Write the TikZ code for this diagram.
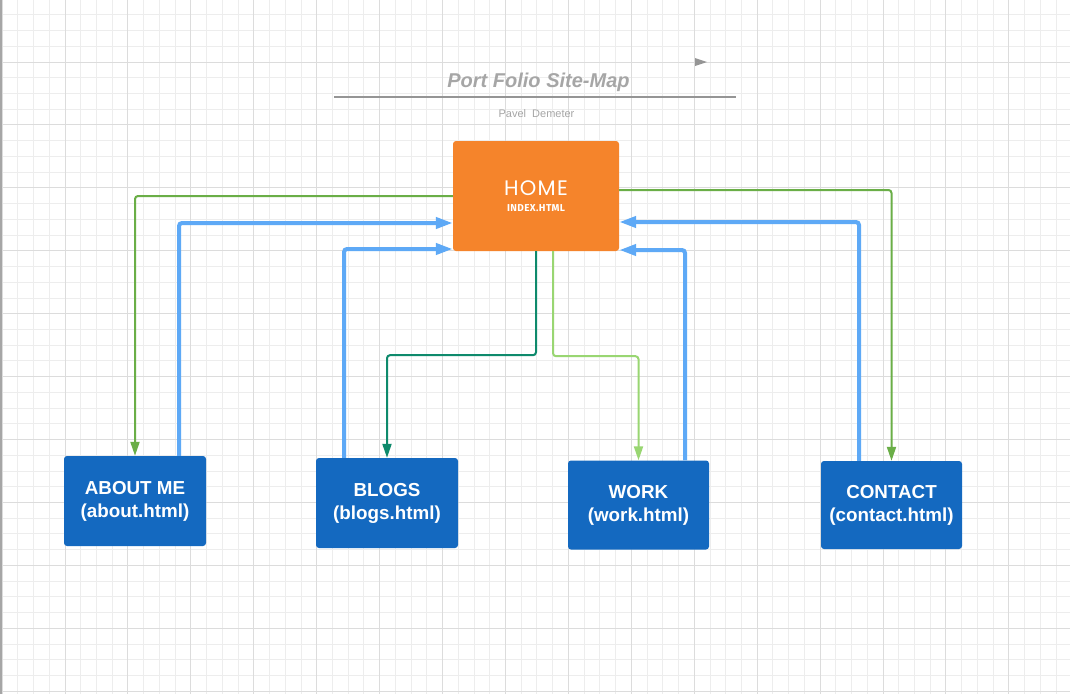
\documentclass[tikz,border=0pt]{standalone}
\usepackage{fontspec}
\setmainfont{Liberation Sans}
\newfontfamily\homefont[LetterSpace=6]{Poppins}
\newfontfamily\tagfont[LetterSpace=4]{Fira Sans}
\usetikzlibrary{arrows.meta,positioning}
\definecolor{homeorange}{HTML}{F5842B}
\definecolor{pageblue}{HTML}{1469C0}
\definecolor{backblue}{HTML}{5EA9F6}
\definecolor{linkgreen}{HTML}{6AAE47}
\definecolor{linkteal}{HTML}{0E8A6C}
\definecolor{linklime}{HTML}{99D672}
\definecolor{gridminor}{HTML}{EDEDED}
\definecolor{gridmajor}{HTML}{DCDCDC}
\definecolor{titlegray}{HTML}{A6A6A6}
\tikzset{
  page/.style={fill=pageblue, text=white, rounded corners=3pt, inner sep=0pt,
    minimum width=142pt, minimum height=90pt, align=center,
    font=\bfseries\fontsize{18.8}{23}\selectfont},
  backlink/.style={draw=backblue, line width=4pt, rounded corners=3pt,
    -{Triangle[length=17pt,width=11pt]}},
  golink/.style={line width=2pt, rounded corners=3pt,
    -{Triangle[length=14pt,width=9pt]}}
}
\begin{document}
\begin{tikzpicture}[x=1pt,y=-1pt]
\useasboundingbox (0,0) rectangle (1070,694);
\fill[white] (0,0) rectangle (1070,694);
\foreach \i in {0,...,68} \draw[gridminor, line width=0.9pt] ({2.1+15.73*\i},0) -- ++(0,694);
\foreach \i in {0,...,44} \draw[gridminor, line width=0.9pt] (0,{-0.9+15.73*\i}) -- ++(1070,0);
\foreach \i in {0,...,17} \draw[gridmajor, line width=0.9pt] ({2.1+62.92*\i},0) -- ++(0,694);
\foreach \i in {1,...,11} \draw[gridmajor, line width=0.9pt] (0,{-0.9+62.92*\i}) -- ++(1070,0);
\fill[gray!70] (0,0) rectangle (2,694);

\node[text=titlegray, font=\bfseries\itshape\fontsize{20}{24}\selectfont] (title) at (538.5,82) {Port Folio Site-Map};
\draw[titlegray!90!black, line width=1.5pt] (334,97) -- (736,97);
\node[text=titlegray, font=\fontsize{11}{13}\selectfont] (author) at (536.5,114) {Pavel\ \ Demeter};
\fill[titlegray!90!black] (695,58) -- (707,62) -- (695,66) -- cycle;

\node[fill=homeorange, text=white, rounded corners=3pt, minimum width=166pt, minimum height=110pt, align=center, inner sep=0pt] (home) at (536,196)
  {{\homefont\fontsize{21}{21}\selectfont HOME}\\[4pt]{\tagfont\bfseries\fontsize{10}{10}\selectfont INDEX.HTML}};
\node[page] (about) at (135,501) {ABOUT ME\\(about.html)};
\node[page] (blogs) at (387,503) {BLOGS\\(blogs.html)};
\node[page, minimum width=141pt, minimum height=89pt] (work) at (638.5,505) {WORK\\(work.html)};
\node[page, minimum width=141pt, minimum height=88pt] (contact) at (891.5,505) {CONTACT\\(contact.html)};

\draw[golink, draw=linkgreen] (home.west) -| (about.north);
\draw[backlink] ([xshift=44pt]about.north) |- ([yshift=-27pt]home.west);
\draw[backlink] ([xshift=-43pt]blogs.north) |- ([yshift=-53pt]home.west);
\draw[golink, draw=linkteal] (home.south) -- ++(0,104) -| (blogs.north);
\draw[golink, draw=linklime] ([xshift=17pt]home.south) -- ++(0,105) -| (work.north);
\draw[backlink] ([xshift=46.5pt]work.north) |- ([yshift=-54pt]home.east);
\draw[backlink] ([xshift=-32.5pt]contact.north) |- ([yshift=-26pt]home.east);
\draw[golink, draw=linkgreen] ([yshift=6pt]home.east) -| (contact.north);
\end{tikzpicture}
\end{document}
